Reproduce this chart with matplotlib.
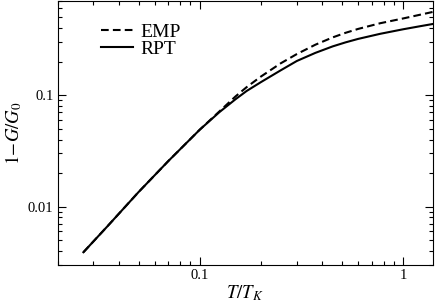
# imports
import matplotlib
matplotlib.use('Agg')
import matplotlib.pyplot as plt
from matplotlib.ticker import LogLocator, NullFormatter, FixedLocator, FixedFormatter

plt.rcParams['font.family'] = ['Liberation Serif', 'DejaVu Serif']
plt.rcParams['mathtext.fontset'] = 'stix'

# data
t_tk = [0.0268, 0.035, 0.05, 0.07, 0.1, 0.125, 0.15, 0.17, 0.2, 0.25, 0.3, 0.37,
        0.45, 0.52, 0.6, 0.77, 1.0, 1.2, 1.4]
emp = [0.0039, 0.0066, 0.0135, 0.0256, 0.049, 0.0716, 0.0975, 0.118, 0.147,
       0.193, 0.2336, 0.2834, 0.3295, 0.362, 0.3925, 0.4414, 0.4875, 0.5245, 0.558]
rpt = [0.0039, 0.0066, 0.0135, 0.0256, 0.049, 0.0705, 0.092, 0.109, 0.131,
       0.167, 0.2025, 0.2394, 0.2737, 0.2972, 0.3194, 0.3548, 0.3899, 0.414, 0.4349]

xticks = [0.1, 1]
xticklabels = ['0.1', '1']
yticks = [0.01, 0.1]
yticklabels = ['0.01', '0.1']

fig = plt.figure(figsize=(4.36, 3.07), dpi=100)
ax = fig.add_axes([0.132, 0.137, 0.861, 0.860])

ax.plot(t_tk, emp, color='black', lw=1.5, ls=(0, (3.7, 2.0)), label='EMP')
ax.plot(t_tk, rpt, color='black', lw=1.5, label='RPT')

ax.set_xscale('log')
ax.set_yscale('log')
ax.set_xlim(0.02, 1.4)
ax.set_ylim(0.003, 0.7)

ax.xaxis.set_major_locator(FixedLocator(xticks))
ax.xaxis.set_major_formatter(FixedFormatter(xticklabels))
ax.yaxis.set_major_locator(FixedLocator(yticks))
ax.yaxis.set_major_formatter(FixedFormatter(yticklabels))
ax.xaxis.set_minor_locator(LogLocator(base=10, subs=range(2, 10)))
ax.yaxis.set_minor_locator(LogLocator(base=10, subs=range(2, 10)))
ax.xaxis.set_minor_formatter(NullFormatter())
ax.yaxis.set_minor_formatter(NullFormatter())

ax.tick_params(which='both', direction='in', top=True, right=True, width=0.8,
               labelsize=10.5, pad=3)
ax.tick_params(which='major', length=5.5)
ax.tick_params(which='minor', length=3)
for s in ax.spines.values():
    s.set_linewidth(0.8)

ax.set_xlabel(r'$T/T_K$', fontsize=13.5, labelpad=1)
ax.set_ylabel(r'$1\!-\!G/G_0$', fontsize=13.5, labelpad=3)

ax.legend(loc='upper left', bbox_to_anchor=(0.095, 0.946), frameon=False,
          fontsize=14, handlelength=1.65, handletextpad=0.4, labelspacing=0.0,
          borderaxespad=0)

fig.savefig('out.png', dpi=100)
